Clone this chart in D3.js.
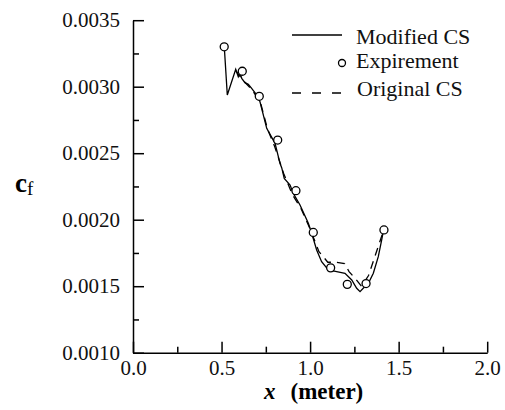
<html lang="en">
  <head>
    <meta charset="UTF-8" />
    <title>cf vs x</title>
    <script src="https://d3js.org/d3.v7.min.js"></script>
  </head>
  <body>
    <style>
      body {
        background-color: #ffffff;
        margin: 0;
        padding: 0;
      }
      svg {
        display: block;
        font-family: "Liberation Serif", "Times New Roman", serif;
      }
      .axis path,
      .axis line {
        stroke: #000;
        stroke-width: 1.5;
      }
    </style>
    <script>
      const w = 505;
      const h = 410;
      const serif = "'Liberation Serif', 'Times New Roman', serif";

      // experiment points
      const expX = [0.515, 0.617, 0.713, 0.817, 0.92, 1.018, 1.116, 1.21, 1.316, 1.417];
      const expCf = [0.0033, 0.003116, 0.002928, 0.002599, 0.002218, 0.001904, 0.001638, 0.001514, 0.00152, 0.001923];

      // modified CS (solid)
      const modX = [0.5155, 0.5325, 0.58, 0.5946, 0.604, 0.614, 0.632, 0.651, 0.67, 0.698, 0.717, 0.755, 0.802, 0.83, 0.84, 0.854, 0.887, 0.905, 0.943, 0.99, 1.009, 1.037, 1.065, 1.103, 1.15, 1.197, 1.235, 1.263, 1.282, 1.3, 1.329, 1.357, 1.385, 1.404, 1.413];
      const modCf = [0.003299, 0.002938, 0.003131, 0.003075, 0.003101, 0.003063, 0.00303, 0.003018, 0.002988, 0.002938, 0.002887, 0.002687, 0.002574, 0.002424, 0.002389, 0.002311, 0.002261, 0.002198, 0.002111, 0.001973, 0.001898, 0.001772, 0.001684, 0.001622, 0.001609, 0.001597, 0.001547, 0.001484, 0.001459, 0.001484, 0.001522, 0.001597, 0.001722, 0.001847, 0.00191];

      // original CS (dashed)
      const origX = [0.58, 0.62, 0.67, 0.72, 0.76, 0.8, 0.85, 0.9, 0.95, 1.0, 1.05, 1.1, 1.15, 1.195, 1.22, 1.26, 1.29, 1.33, 1.36, 1.39, 1.415];
      const origCf = [0.00312, 0.00305, 0.00298, 0.00288, 0.00268, 0.00255, 0.00235, 0.00219, 0.00208, 0.00193, 0.00176, 0.00168, 0.00168, 0.00167, 0.00161, 0.00155, 0.0015, 0.00158, 0.0017, 0.00182, 0.00192];

      const xTicks = [0, 0.5, 1.0, 1.5, 2.0];
      const xMinor = [0.25, 0.75, 1.25, 1.75];
      const yTicks = [0.001, 0.0015, 0.002, 0.0025, 0.003, 0.0035];
      const yMinor = [0.00125, 0.00175, 0.00225, 0.00275, 0.00325];

      const legendItems = ["Modified CS", "Expirement", "Original CS"];

      const svg = d3.select("body").append("svg").attr("width", w).attr("height", h);

      const xScale = d3.scaleLinear().domain([0, 2]).range([133, 487.2]);
      const yScale = d3.scaleLinear().domain([0.001, 0.0035]).range([352.7, 20.2]);

      // minor ticks first
      svg.append("g").attr("class", "axis")
        .attr("transform", `translate(0, ${yScale(0.001)})`)
        .call(d3.axisBottom(xScale).tickValues(xMinor).tickSize(-6).tickFormat(""))
        .select(".domain").remove();
      svg.append("g").attr("class", "axis")
        .attr("transform", `translate(${xScale(0)}, 0)`)
        .call(d3.axisLeft(yScale).tickValues(yMinor).tickSize(-6).tickFormat(""))
        .select(".domain").remove();

      const xAxis = svg.append("g").attr("class", "axis")
        .attr("transform", `translate(0, ${yScale(0.001)})`)
        .call(d3.axisBottom(xScale).tickValues(xTicks).tickSizeInner(-11).tickSizeOuter(0).tickPadding(8).tickFormat(d3.format(".1f")));
      xAxis.attr("font-family", serif).attr("font-size", 21);
      xAxis.selectAll("text").attr("dy", "0.68em").attr("fill", "#111");

      const yAxis = svg.append("g").attr("class", "axis")
        .attr("transform", `translate(${xScale(0)}, 0)`)
        .call(d3.axisLeft(yScale).tickValues(yTicks).tickSizeInner(-11).tickSizeOuter(0).tickPadding(13).tickFormat(d3.format(".4f")));
      yAxis.attr("font-family", serif).attr("font-size", 21);
      yAxis.selectAll("text").attr("fill", "#111");

      // axis titles
      const yTitle = svg.append("text").attr("x", 15).attr("y", 192).style("font-size", "27px");
      yTitle.append("tspan").style("font-weight", "bold").text("c");
      yTitle.append("tspan").attr("dy", 3).style("font-size", "19px").text("f");

      const xTitle = svg.append("text").attr("x", 264).attr("y", 399).style("font-size", "23px").style("font-weight", "bold");
      xTitle.append("tspan").style("font-style", "italic").text("x");
      xTitle.append("tspan").attr("dx", 15).text("(meter)");

      const line = d3.line().x((d) => xScale(d[0])).y((d) => yScale(d[1]));

      svg.append("path")
        .datum(origX.map((x, i) => [x, origCf[i]]))
        .attr("d", line)
        .attr("fill", "none")
        .attr("stroke", "#000")
        .attr("stroke-width", 1.3)
        .attr("stroke-dasharray", "8,6");

      svg.append("path")
        .datum(modX.map((x, i) => [x, modCf[i]]))
        .attr("d", line)
        .attr("fill", "none")
        .attr("stroke", "#000")
        .attr("stroke-width", 1.3);

      svg.append("g")
        .selectAll("circle")
        .data(expX.map((x, i) => [x, expCf[i]]))
        .join("circle")
        .attr("cx", (d) => xScale(d[0]))
        .attr("cy", (d) => yScale(d[1]))
        .attr("r", 4)
        .attr("fill", "#fff")
        .attr("stroke", "#000")
        .attr("stroke-width", 1.3);

      // legend
      const legend = svg.append("g").attr("id", "legend");
      legend.append("line").attr("x1", 292).attr("x2", 342).attr("y1", 35).attr("y2", 35)
        .attr("stroke", "#000").attr("stroke-width", 1.3);
      legend.append("circle").attr("cx", 342).attr("cy", 63).attr("r", 3.5)
        .attr("fill", "#fff").attr("stroke", "#000").attr("stroke-width", 1.3);
      legend.append("line").attr("x1", 292).attr("x2", 342).attr("y1", 93).attr("y2", 93)
        .attr("stroke", "#000").attr("stroke-width", 1.3).attr("stroke-dasharray", "9,11");
      legend.selectAll("text")
        .data(legendItems)
        .join("text")
        .attr("x", (d, i) => (i === 2 ? 357 : 356))
        .attr("y", (d, i) => [44, 68, 96][i])
        .style("font-size", "22px")
        .attr("fill", "#111")
        .text((d) => d);
    </script>
  </body>
</html>
